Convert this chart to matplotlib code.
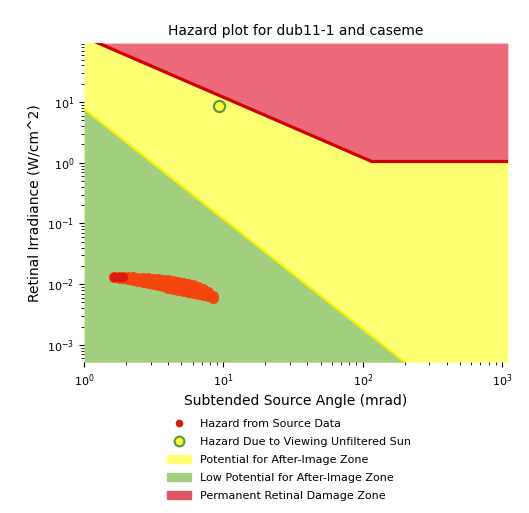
import matplotlib
matplotlib.use('Agg')
import matplotlib.pyplot as plt
from matplotlib.lines import Line2D
from matplotlib.patches import Patch

# retinal burn threshold (red line), mrad vs W/cm^2
burn_angle = [1.0, 116.0, 1100.0]
burn_irr = [118.0, 1.05, 1.05]

# after-image threshold (green / yellow boundary)
after_angle = [1.0, 200.0]
after_irr = [7.7, 5.2e-4]

# source data points: upper and lower edge of the band
track_angle = [1.626, 1.766, 1.917, 2.082, 2.261, 2.455, 2.666, 2.895, 3.144, 3.414, 3.707,
               4.026, 4.371, 4.747, 5.155, 5.597, 6.078, 6.600, 7.167, 7.783, 8.451]
upper_irr = [0.01303, 0.01303, 0.01303, 0.01303, 0.01303, 0.01289, 0.01279, 0.01260, 0.01237, 0.01218, 0.01195,
             0.01173, 0.01142, 0.01099, 0.01058, 0.01019, 0.00963, 0.00893, 0.00827, 0.00752, 0.00647]
lower_irr = [0.01303, 0.01279, 0.01251, 0.01223, 0.01186, 0.01147, 0.01104, 0.01058, 0.01011, 0.00966, 0.00923,
             0.00876, 0.00837, 0.00803, 0.00773, 0.00744, 0.00719, 0.00692, 0.00667, 0.00640, 0.00588]

# unfiltered sun
sun_angle = [9.33]
sun_irr = [8.67]

xlim = (1.0, 1100.0)
ylim = (5.2e-4, 93.5)

fig = plt.figure(figsize=(5.29, 5.13), dpi=100)
ax = fig.add_axes([0.159, 0.294, 0.801, 0.622])
ax.set_xscale('log')
ax.set_yscale('log')
ax.set_xlim(*xlim)
ax.set_ylim(*ylim)

c_red = '#ec6a7a'
c_yel = '#ffff74'
c_grn = '#a2ce80'

ax.fill_between(burn_angle, burn_irr, ylim[1], color=c_red, lw=0)
ax.fill_between(burn_angle, ylim[0], burn_irr, color=c_yel, lw=0)
ax.fill_between(after_angle, ylim[0], after_irr, color=c_grn, lw=0)
ax.plot(burn_angle, burn_irr, color='#d00000', lw=2.3)
ax.plot(after_angle, after_irr, color='#f5f500', lw=1.6)

src_angle = track_angle + track_angle
src_irr = upper_irr + lower_irr
ax.scatter(src_angle, src_irr, s=62, color='#f2460e', lw=0, zorder=3)
ax.scatter(track_angle[:3], upper_irr[:3], s=45, color='#dc1a0c', lw=0, zorder=4)
ax.plot(sun_angle, sun_irr, 'o', ms=8, mfc='#ffff40', mec='#5f9a3a', mew=1.6, zorder=5)

ax.set_title('Hazard plot for dub11-1 and caseme', fontsize=10)
ax.set_xlabel('Subtended Source Angle (mrad)', fontsize=10)
ax.set_ylabel('Retinal Irradiance (W/cm^2)', fontsize=10)
ax.tick_params(labelsize=8)
for s in ax.spines.values():
    s.set_visible(False)

handles = [
    Line2D([], [], marker='o', ls='', ms=4.5, color='#cc2200'),
    Line2D([], [], marker='o', ls='', ms=7, mfc='#ffff40', mec='#5f9a3a', mew=1.6),
    Patch(color=c_yel),
    Patch(color=c_grn),
    Patch(color='#e05868'),
]
labels = ['Hazard from Source Data', 'Hazard Due to Viewing Unfiltered Sun',
          'Potential for After-Image Zone', 'Low Potential for After-Image Zone',
          'Permanent Retinal Damage Zone']
fig.legend(handles, labels, loc='upper left', bbox_to_anchor=(0.305, 0.194),
           frameon=False, fontsize=8, labelspacing=0.72, handlelength=2.2,
           borderpad=0, handletextpad=0.8)

fig.savefig('out.png', dpi=100)
